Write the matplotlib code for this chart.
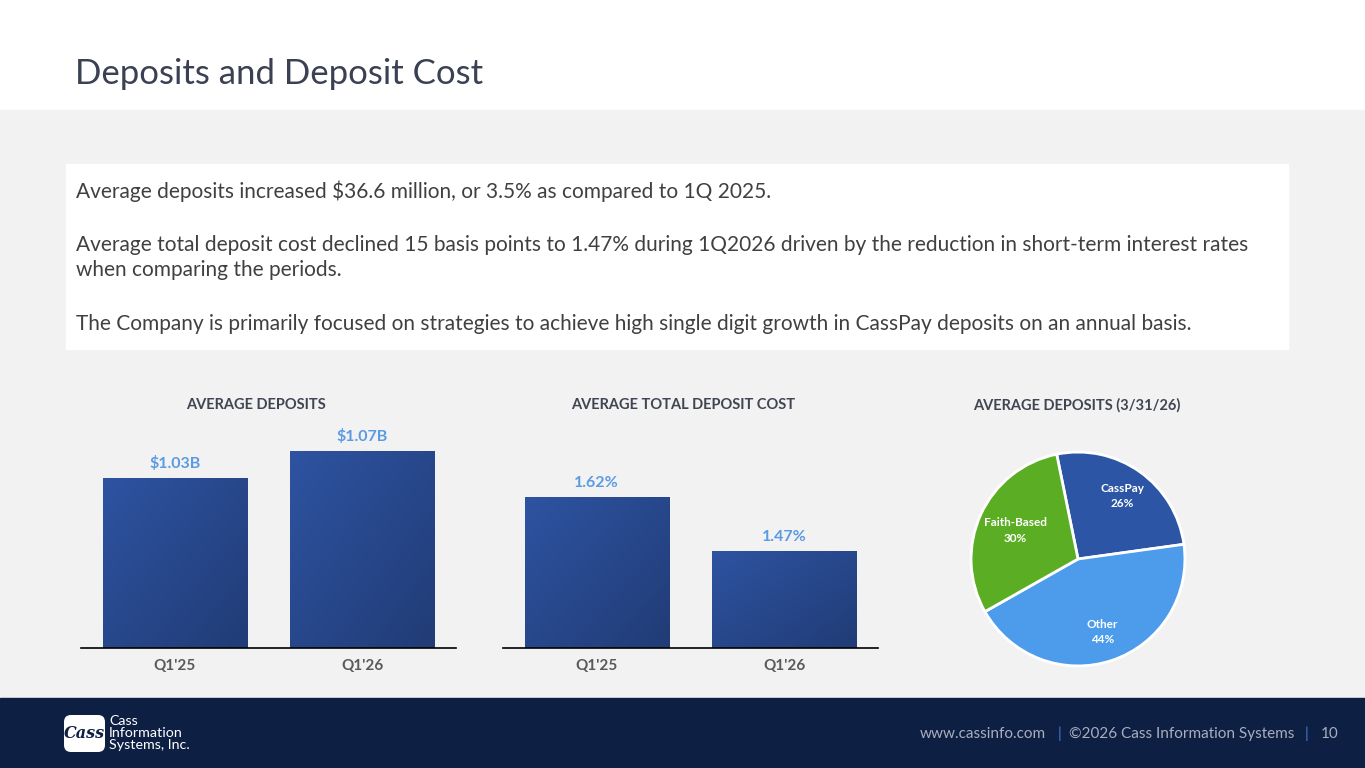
import numpy as np
import matplotlib
matplotlib.use('Agg')
import matplotlib.pyplot as plt
from matplotlib.patches import Rectangle, FancyBboxPatch
from matplotlib.colors import LinearSegmentedColormap

plt.rcParams['font.family'] = ['Lato', 'DejaVu Sans']

W, H = 1365, 768

# data
quarters = ["Q1'25", "Q1'26"]
avg_deposits = [1.03, 1.07]           # $B
deposit_labels = ['$1.03B', '$1.07B']
deposit_cost = [1.62, 1.47]           # %
cost_labels = ['1.62%', '1.47%']
mix_names = ['CassPay', 'Other', 'Faith-Based']
mix_pct = [26, 44, 30]

body = [
    "Average deposits increased $36.6 million, or 3.5% as compared to 1Q 2025.",
    "",
    "Average total deposit cost declined 15 basis points to 1.47% during 1Q2026 driven by the reduction in short-term interest rates",
    "when comparing the periods.",
    "",
    "The Company is primarily focused on strategies to achieve high single digit growth in CassPay deposits on an annual basis.",
]

NAVY = '#0E1F44'
BAR_TOP = '#2E53A1'
BAR_BOT = '#213C76'
VAL = '#5B9BE3'
TICK = '#595959'
HEAD = '#404552'

fig = plt.figure(figsize=(W / 100, H / 100), dpi=100)
fig.patch.set_facecolor('white')


def px(x, y, w, h):
    # pixel box (top-left origin) -> figure fraction
    return [x / W, 1 - (y + h) / H, w / W, h / H]


bg = fig.add_axes([0, 0, 1, 1])
bg.set_xlim(0, W)
bg.set_ylim(H, 0)
bg.axis('off')
bg.add_patch(Rectangle((0, 110), W, 588, color='#F2F2F2', zorder=0))
bg.add_patch(Rectangle((66, 164), 1222, 185, color='white', zorder=1))
bg.add_patch(Rectangle((0, 698), W, 70, color=NAVY, zorder=1))

bg.text(75, 74, 'Deposits and Deposit Cost', fontsize=25, color='#3B4152',
        va='center', ha='left', zorder=2)

ys = [191, 218, 245, 270, 297, 324]
for t, y in zip(body, ys):
    bg.text(76, y, t, fontsize=15, color='#404040', va='center', ha='left', zorder=2)

# footer
bg.add_patch(FancyBboxPatch((64, 715), 41, 37, boxstyle='round,pad=0,rounding_size=7',
                            fc='white', ec='none', zorder=2))
bg.text(84.5, 734, 'Cass', fontsize=11.5, color=NAVY, style='italic', weight='bold',
        family='DejaVu Serif', ha='center', va='center', zorder=3)
for t, y in zip(['Cass', 'Information', 'Systems, Inc.'], [721, 733, 745]):
    bg.text(109, y, t, fontsize=10.3, color='white', ha='left', va='center', zorder=3)
for t, x, c in [('www.cassinfo.com', 920, '#A9AEBE'), ('|', 1058, '#4A7FD0'),
                ('©2026 Cass Information Systems', 1069, '#A9AEBE'), ('|', 1305, '#4A7FD0'),
                ('10', 1321, '#A9AEBE')]:
    bg.text(x, 734, t, fontsize=11, color=c, ha='left', va='center', zorder=3)

# headings
for t, x in [('AVERAGE DEPOSITS', 256), ('AVERAGE TOTAL DEPOSIT COST', 683),
             ('AVERAGE DEPOSITS (3/31/26)', 1077)]:
    bg.text(x, 405, t, fontsize=10.5, weight='bold', color=HEAD, ha='center', va='center', zorder=2)

grad_cmap = LinearSegmentedColormap.from_list('g', [BAR_TOP, BAR_BOT])
gx, gy = np.meshgrid(np.linspace(0, 1, 64), np.linspace(0, 1, 64))
grad = (gx + gy) / 2


def bar_chart(rect, values, labels, ylim):
    ax = fig.add_axes(px(*rect))
    ax.set_facecolor('none')
    bars = ax.bar(range(len(values)), values, width=0.77, bottom=0, color=BAR_TOP, zorder=2)
    ax.set_xlim(-0.5, 1.5)
    ax.set_ylim(*ylim)
    for b, lab in zip(bars, labels):
        x0, w, h = b.get_x(), b.get_width(), b.get_height()
        im = ax.imshow(grad, extent=(x0, x0 + w, ylim[0], h), origin='upper',
                       cmap=grad_cmap, aspect='auto', zorder=3)
        im.set_clip_path(b)
        ax.annotate(lab, (x0 + w / 2, h), xytext=(0, 5), textcoords='offset points',
                    ha='center', va='bottom', fontsize=11.5, weight='bold', color=VAL)
    ax.set_xticks(range(len(values)))
    ax.set_xticklabels(quarters, fontsize=11, weight='bold', color=TICK)
    ax.tick_params(axis='x', length=0, pad=8)
    ax.set_yticks([])
    for s in ['top', 'left', 'right']:
        ax.spines[s].set_visible(False)
    ax.spines['bottom'].set_color('black')
    ax.spines['bottom'].set_linewidth(1.2)
    ax.spines['bottom'].set_zorder(5)
    return ax


bar_chart((81, 430, 375, 218), avg_deposits, deposit_labels, (0.778, 0.778 + 218 / 674.7))
bar_chart((503, 430, 375, 218), deposit_cost, cost_labels, (1.2, 1.2 + 218 / 359.5))

# pie
pax = fig.add_axes(px(970, 451, 216, 216))
colors = ['#2D55A5', '#4D9BEB', '#5BAE23']
wedges, _ = pax.pie(mix_pct, colors=colors, startangle=101.5, counterclock=False,
                    wedgeprops=dict(edgecolor='white', linewidth=2))
pax.set_xlim(-1.01, 1.01)
pax.set_ylim(-1.01, 1.01)
pax.set_aspect('equal')
label_r = [0.72, 0.72, 0.64]
for w, name, pct, r in zip(wedges, mix_names, mix_pct, label_r):
    ang = np.deg2rad((w.theta1 + w.theta2) / 2)
    pax.text(r * np.cos(ang), r * np.sin(ang), f'{name}\n{pct}%', ha='center', va='center',
             fontsize=8.5, weight='bold', color='white', linespacing=1.5, clip_on=False)

fig.savefig('out.png', dpi=100, facecolor=fig.get_facecolor())
